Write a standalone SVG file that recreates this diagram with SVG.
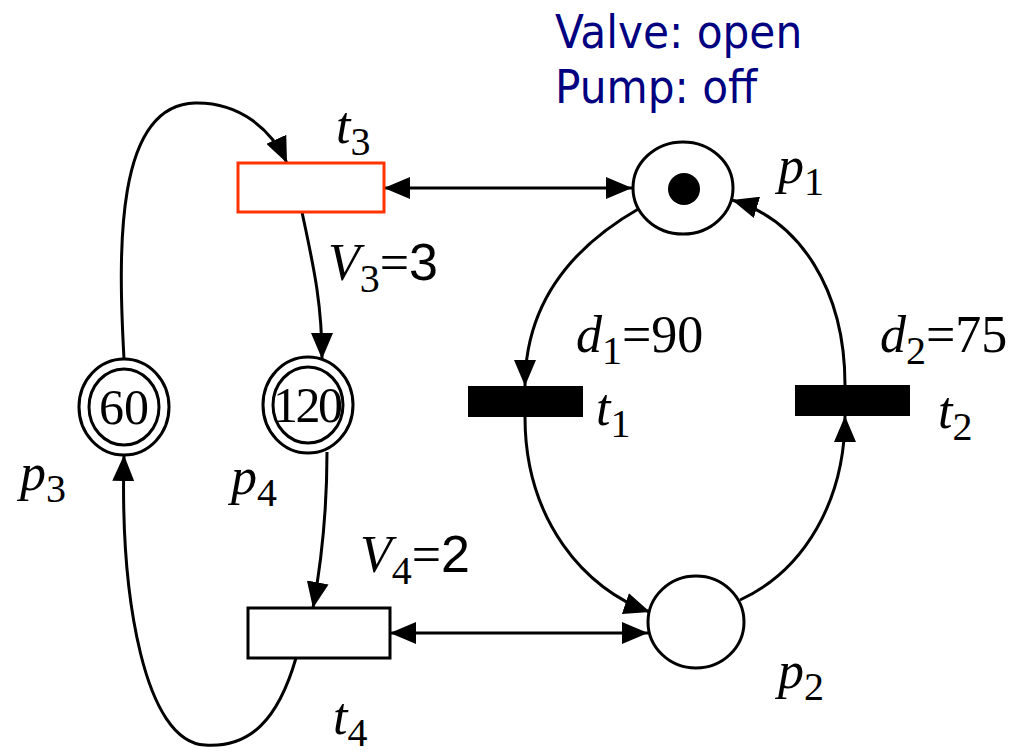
<svg xmlns="http://www.w3.org/2000/svg" width="1026" height="754" viewBox="0 0 1026 754">
<defs>
<marker id="ah" markerUnits="userSpaceOnUse" markerWidth="26" markerHeight="22" refX="26" refY="11" orient="auto-start-reverse">
<path d="M0,0 L26,11 L0,22 z" fill="#000"/>
</marker>
<style>
.edge{fill:none;stroke:#000;stroke-width:3;marker-end:url(#ah)}
.bi{marker-start:url(#ah)}
.place{fill:#fff;stroke:#000;stroke-width:3}
.it{font-family:"Liberation Serif","Times New Roman","DejaVu Serif",serif;font-style:italic;font-size:52px;fill:#000}
.sub{font-style:normal;font-size:40px}
.rm{font-style:normal}
.num{font-family:"Liberation Serif","Times New Roman","DejaVu Serif",serif;font-size:50px;fill:#000;text-anchor:middle}
.sans{font-family:"Liberation Sans",Arial,sans-serif;font-style:normal}
.state{font-family:"DejaVu Sans Condensed","DejaVu Sans",sans-serif;font-size:47px;fill:#000080}
</style>
</defs>
<rect width="1026" height="754" fill="#fff"/>
<g id="connectors">
<path class="edge" d="M124,359 C118,250 115,105 195,103 C240,102 272,130 287,163"/>
<path class="edge" d="M302,212 C312,260 322,300 322,359"/>
<path class="edge" d="M327,452 C327,520 320,570 313,608"/>
<path class="edge" d="M296,658 C278,720 250,748 205,745 C145,742 120,600 124,455"/>
<path class="edge" d="M640,208 C575,245 525,300 525,386"/>
<path class="edge" d="M525,417 C525,520 585,590 650,612"/>
<path class="edge" d="M740,600 C805,570 845,500 845,416"/>
<path class="edge" d="M845,385 C845,290 800,220 732,200"/>
<path class="edge bi" d="M384,188 H632"/>
<path class="edge bi" d="M390,633 H648"/>
</g>
<g id="status">
<text class="state" x="555" y="48">Valve: open</text>
<text class="state" x="555" y="103">Pump: off</text>
</g>
<g id="t3">
<rect x="238" y="163" width="146" height="49" fill="#fff" stroke="#FF3300" stroke-width="3"/>
<text class="it" x="336" y="143">t<tspan class="sub" dy="12">3</tspan></text>
<text class="it" x="328" y="280">V<tspan class="sub" dy="12">3</tspan><tspan class="rm" dy="-12">=</tspan><tspan class="sans">3</tspan></text>
</g>
<g id="p1">
<ellipse class="place" cx="683" cy="188" rx="50" ry="46"/>
<circle cx="684" cy="189" r="16" fill="#000"/>
<text class="it" x="778" y="183">p<tspan class="sub" dy="12">1</tspan></text>
</g>
<g id="t1">
<rect x="468" y="386" width="115" height="31" fill="#000"/>
<text class="it" x="596" y="425">t<tspan class="sub" dy="12">1</tspan></text>
<text class="it" x="576" y="352">d<tspan class="sub" dy="12">1</tspan><tspan class="rm" dy="-12">=90</tspan></text>
</g>
<g id="t2">
<rect x="795" y="385" width="115" height="31" fill="#000"/>
<text class="it" x="938" y="428">t<tspan class="sub" dy="12">2</tspan></text>
<text class="it" x="880" y="352">d<tspan class="sub" dy="12">2</tspan><tspan class="rm" dy="-12">=75</tspan></text>
</g>
<g id="p2">
<ellipse class="place" cx="696" cy="622" rx="48" ry="46"/>
<text class="it" x="778" y="688">p<tspan class="sub" dy="12">2</tspan></text>
</g>
<g id="p3">
<ellipse class="place" cx="124" cy="407" rx="45" ry="48"/>
<ellipse class="place" cx="124" cy="407" rx="35" ry="38"/>
<text class="num" x="124" y="424">60</text>
<text class="it" x="20" y="490">p<tspan class="sub" dy="12">3</tspan></text>
</g>
<g id="p4">
<ellipse class="place" cx="308" cy="405" rx="45" ry="48"/>
<ellipse class="place" cx="308" cy="405" rx="35" ry="38"/>
<text class="num" x="308" y="422" textLength="70">120</text>
<text class="it" x="231" y="494">p<tspan class="sub" dy="12">4</tspan></text>
</g>
<g id="t4">
<rect x="248" y="608" width="142" height="50" fill="#fff" stroke="#000" stroke-width="3"/>
<text class="it" x="333" y="734">t<tspan class="sub" dy="12">4</tspan></text>
<text class="it" x="360" y="572">V<tspan class="sub" dy="12">4</tspan><tspan class="rm" dy="-12">=</tspan><tspan class="sans">2</tspan></text>
</g>
</svg>
